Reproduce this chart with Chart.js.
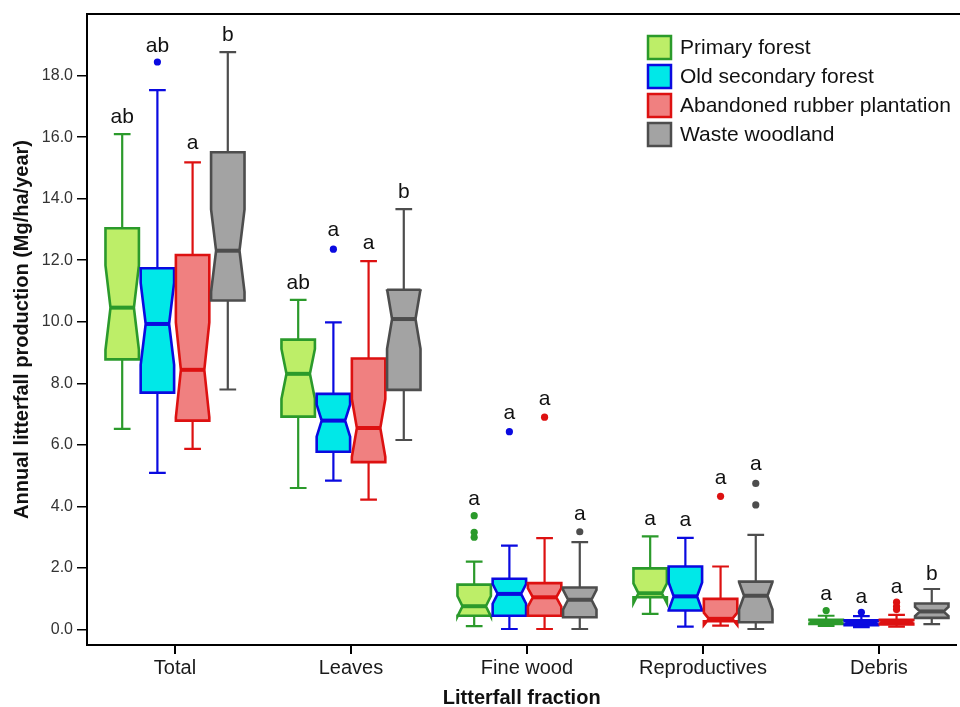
<!DOCTYPE html>
<html>
<head>
<meta charset="utf-8">
<script src="https://cdn.jsdelivr.net/npm/chart.js@4.4.1/dist/chart.umd.min.js"></script>
<style>
  html, body { margin: 0; padding: 0; background: #fff; }
  #wrap { width: 960px; height: 707px; }
</style>
</head>
<body>
<div id="wrap"><canvas id="chart" width="960" height="707"></canvas></div>
<script>
// Categories, series and tick labels
const categories = ['Total', 'Leaves', 'Fine wood', 'Reproductives', 'Debris'];
const seriesNames = ['Primary forest', 'Old secondary forest', 'Abandoned rubber plantation', 'Waste woodland'];
const yTicks = [0, 2, 4, 6, 8, 10, 12, 14, 16, 18];

// Primary forest
const pfLow = [6.52, 4.60, 0.11, 0.51, 0.12];
const pfQ1 = [8.78, 6.92, 0.45, 1.05, 0.18];
const pfMed = [10.46, 8.31, 0.76, 1.18, 0.25];
const pfQ3 = [13.04, 9.42, 1.46, 1.99, 0.32];
const pfHigh = [16.10, 10.71, 2.21, 3.03, 0.45];
const pfNotch = [1.37, 0.81, 0.33, 0.32, 0.05];
const pfOut = [[], [], [3.70, 3.16, 3.00], [], [0.62]];
const pfLetters = ['ab', 'ab', 'a', 'a', 'a'];
const pfLetterY = [16.64, 11.25, 4.25, 3.60, 1.16];

// Old secondary forest
const osLow = [5.09, 4.84, 0.02, 0.10, 0.08];
const osQ1 = [7.70, 5.78, 0.45, 0.62, 0.14];
const osMed = [9.93, 6.79, 1.16, 1.08, 0.22];
const osQ3 = [11.74, 7.66, 1.65, 2.05, 0.30];
const osHigh = [17.53, 9.98, 2.73, 2.98, 0.44];
const osNotch = [1.33, 0.52, 0.32, 0.45, 0.05];
const osOut = [[18.44], [12.36], [6.43], [], [0.56]];
const osLetters = ['ab', 'a', 'a', 'a', 'a'];
const osLetterY = [18.97, 12.96, 7.03, 3.54, 1.05];

// Abandoned rubber plantation
const arLow = [5.87, 4.22, 0.02, 0.13, 0.10];
const arQ1 = [6.79, 5.44, 0.45, 0.27, 0.17];
const arMed = [8.44, 6.55, 1.05, 0.35, 0.25];
const arQ3 = [12.17, 8.81, 1.51, 1.00, 0.32];
const arHigh = [15.18, 11.97, 2.97, 2.05, 0.48];
const arNotch = [1.54, 0.94, 0.30, 0.20, 0.05];
const arOut = [[], [], [6.90], [4.33], [0.65, 0.75, 0.89]];
const arLetters = ['a', 'a', 'a', 'a', 'a'];
const arLetterY = [15.80, 12.56, 7.49, 4.93, 1.37];

// Waste woodland
const wwLow = [7.80, 6.16, 0.02, 0.02, 0.18];
const wwQ1 = [10.69, 7.79, 0.40, 0.24, 0.38];
const wwMed = [12.31, 10.09, 0.97, 1.10, 0.59];
const wwQ3 = [15.51, 11.04, 1.37, 1.56, 0.85];
const wwHigh = [18.76, 13.66, 2.84, 3.08, 1.32];
const wwNotch = [1.34, 0.97, 0.32, 0.45, 0.15];
const wwOut = [[], [], [3.18], [4.05, 4.75], []];
const wwLetters = ['b', 'b', 'a', 'a', 'b'];
const wwLetterY = [19.32, 14.21, 3.76, 5.36, 1.81];

const series = [
    { low: pfLow, q1: pfQ1, med: pfMed, q3: pfQ3, high: pfHigh, notch: pfNotch, out: pfOut, letters: pfLetters, letterY: pfLetterY, fill: '#bdee68', line: '#2b9a2b' },
    { low: osLow, q1: osQ1, med: osMed, q3: osQ3, high: osHigh, notch: osNotch, out: osOut, letters: osLetters, letterY: osLetterY, fill: '#00e8e8', line: '#0a0ae0' },
    { low: arLow, q1: arQ1, med: arMed, q3: arQ3, high: arHigh, notch: arNotch, out: arOut, letters: arLetters, letterY: arLetterY, fill: '#f08080', line: '#dd1111' },
    { low: wwLow, q1: wwQ1, med: wwMed, q3: wwQ3, high: wwHigh, notch: wwNotch, out: wwOut, letters: wwLetters, letterY: wwLetterY, fill: '#a3a3a3', line: '#4d4d4d' }
];

const groupOffsets = [-0.3, -0.1, 0.1, 0.3];
const boxWidth = 0.19;
const FONT = '"Liberation Sans", Arial, sans-serif';

// Notched boxes, whiskers and medians, drawn under the outlier points
const boxPlugin = {
    id: 'notchedBoxes',
    beforeDatasetsDraw(chart) {
        const { ctx, scales: { x, y } } = chart;
        const half = (x.getPixelForValue(boxWidth) - x.getPixelForValue(0)) / 2;
        const inset = half * 0.3;

        series.forEach((s, si) => {
            categories.forEach((cat, ci) => {
                const cx = x.getPixelForValue(ci + groupOffsets[si]);
                const L = cx - half, R = cx + half;
                const yLow = y.getPixelForValue(s.low[ci]);
                const yQ1 = y.getPixelForValue(s.q1[ci]);
                const yMed = y.getPixelForValue(s.med[ci]);
                const yQ3 = y.getPixelForValue(s.q3[ci]);
                const yHigh = y.getPixelForValue(s.high[ci]);
                const yNHi = y.getPixelForValue(s.med[ci] + s.notch[ci]);
                const yNLo = y.getPixelForValue(s.med[ci] - s.notch[ci]);

                ctx.save();
                ctx.strokeStyle = s.line;
                ctx.lineJoin = 'miter';

                // whiskers and caps
                ctx.lineWidth = 2.2;
                ctx.beginPath();
                ctx.moveTo(cx, yQ3); ctx.lineTo(cx, yHigh);
                ctx.moveTo(cx, yQ1); ctx.lineTo(cx, yLow);
                ctx.moveTo(cx - half / 2, yHigh); ctx.lineTo(cx + half / 2, yHigh);
                ctx.moveTo(cx - half / 2, yLow); ctx.lineTo(cx + half / 2, yLow);
                ctx.stroke();

                // notched box
                ctx.beginPath();
                ctx.moveTo(L, yQ3);
                ctx.lineTo(L, yNHi);
                ctx.lineTo(L + inset, yMed);
                ctx.lineTo(L, yNLo);
                ctx.lineTo(L, yQ1);
                ctx.lineTo(R, yQ1);
                ctx.lineTo(R, yNLo);
                ctx.lineTo(R - inset, yMed);
                ctx.lineTo(R, yNHi);
                ctx.lineTo(R, yQ3);
                ctx.closePath();
                ctx.fillStyle = s.fill;
                ctx.fill();
                ctx.lineWidth = 2.6;
                ctx.stroke();

                // median
                ctx.lineWidth = 4;
                ctx.beginPath();
                ctx.moveTo(L + inset, yMed);
                ctx.lineTo(R - inset, yMed);
                ctx.stroke();
                ctx.restore();
            });
        });
    },
    afterDatasetsDraw(chart) {
        const { ctx, scales: { x, y } } = chart;
        ctx.save();
        ctx.fillStyle = '#111';
        ctx.font = '21px ' + FONT;
        ctx.textAlign = 'center';
        ctx.textBaseline = 'middle';
        series.forEach((s, si) => {
            categories.forEach((cat, ci) => {
                const cx = x.getPixelForValue(ci + groupOffsets[si]);
                ctx.fillText(s.letters[ci], cx, y.getPixelForValue(s.letterY[ci]));
            });
        });
        ctx.restore();
    },
    afterDraw(chart) {
        const { ctx, chartArea } = chart;
        ctx.save();
        // top frame line
        ctx.strokeStyle = '#000';
        ctx.lineWidth = 2;
        ctx.beginPath();
        ctx.moveTo(chartArea.left, chartArea.top);
        ctx.lineTo(chart.width, chartArea.top);
        ctx.stroke();

        // legend
        const lx = 648, ly = 36, step = 29, size = 23;
        ctx.font = '21px ' + FONT;
        ctx.textBaseline = 'middle';
        ctx.textAlign = 'left';
        seriesNames.forEach((name, i) => {
            const top = ly + i * step;
            ctx.fillStyle = series[i].fill;
            ctx.fillRect(lx, top, size, size);
            ctx.strokeStyle = series[i].line;
            ctx.lineWidth = 2.5;
            ctx.strokeRect(lx, top, size, size);
            ctx.fillStyle = '#111';
            ctx.fillText(name, lx + 32, top + size / 2 + 1);
        });
        ctx.restore();
    }
};

const outlierSets = series.map((s, si) => ({
    label: seriesNames[si],
    data: s.out.flatMap((vals, ci) => vals.map(v => ({ x: ci + groupOffsets[si], y: v }))),
    pointRadius: 3.6,
    pointHoverRadius: 3.6,
    pointBorderWidth: 0,
    backgroundColor: s.line,
    borderColor: s.line
}));

new Chart(document.getElementById('chart').getContext('2d'), {
    type: 'scatter',
    data: { datasets: outlierSets },
    options: {
        responsive: false,
        animation: false,
        layout: { padding: { top: 14, right: 0, bottom: 0, left: 0 } },
        plugins: {
            legend: { display: false },
            tooltip: { enabled: false }
        },
        scales: {
            x: {
                type: 'linear',
                min: -0.5,
                max: 4.44,
                afterBuildTicks: sc => { sc.ticks = categories.map((c, i) => ({ value: i })); },
                afterFit: sc => { sc.height = 62; },
                ticks: {
                    callback: v => categories[v],
                    font: { size: 20, family: FONT },
                    color: '#1a1a1a',
                    padding: 2,
                    maxRotation: 0,
                    autoSkip: false
                },
                grid: { drawOnChartArea: false, tickLength: 9, color: '#000', lineWidth: 2 },
                border: { color: '#000', width: 2 },
                title: {
                    display: true,
                    text: 'Litterfall fraction',
                    font: { size: 20, weight: 'bold', family: FONT, lineHeight: 1 },
                    color: '#111',
                    padding: { top: 0, bottom: -1 }
                }
            },
            y: {
                min: -0.5,
                max: 20,
                afterBuildTicks: sc => { sc.ticks = yTicks.map(v => ({ value: v })); },
                afterFit: sc => { sc.width = 87; },
                ticks: {
                    callback: v => v.toFixed(1),
                    font: { size: 16, family: FONT },
                    color: '#333',
                    padding: 4
                },
                grid: { drawOnChartArea: false, tickLength: 10, color: '#000', lineWidth: 1.5 },
                border: { color: '#000', width: 2 },
                title: {
                    display: true,
                    text: 'Annual litterfall production (Mg/ha/year)',
                    font: { size: 20, weight: 'bold', family: FONT, lineHeight: 1.2 },
                    color: '#111',
                    padding: { top: 10, bottom: 0 }
                }
            }
        }
    },
    plugins: [boxPlugin]
});
</script>
</body>
</html>
